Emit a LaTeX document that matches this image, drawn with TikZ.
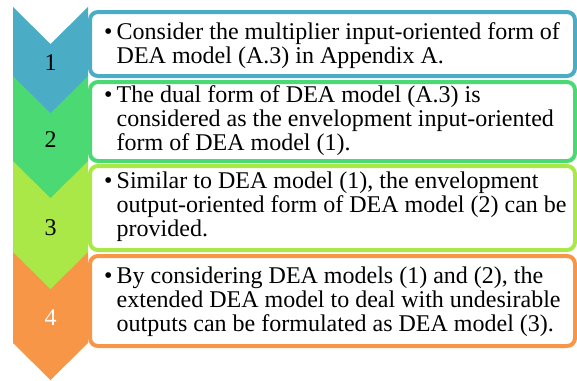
\documentclass[tikz,border=0pt]{standalone}
\usepackage{fontspec}
\setmainfont{Liberation Serif}
\definecolor{stepOneColour}{RGB}{75,172,198}
\definecolor{stepTwoColour}{RGB}{74,217,114}
\definecolor{stepThreeColour}{RGB}{170,232,72}
\definecolor{stepFourColour}{RGB}{247,150,70}
\tikzset{
	stepframe/.style={draw=#1, line width=4pt, fill=white, rounded corners=8pt},
	stepnumber/.style={font=\fontsize{24}{24}\selectfont, anchor=base, inner sep=0pt},
	steptext/.style={font=\fontsize{24}{24}\selectfont, anchor=base west, inner sep=0pt}
}
\newcommand{\stepbullet}{\makebox[12.5pt][l]{\textbullet}}

\begin{document}
\begin{tikzpicture}[x=1pt, y=-1pt]
		\useasboundingbox (0, 0) rectangle (577, 380);

		% the step arrows, bottom one first
		\fill[stepFourColour] (13, 252) -- (88, 252) -- (88, 343) -- (50.5, 380) -- (13, 343) -- cycle;
		\fill[stepThreeColour] (13, 161) -- (88, 161) -- (88, 252) -- (50.5, 289) -- (13, 252) -- cycle;
		\fill[stepTwoColour] (13, 76) -- (88, 76) -- (88, 161) -- (50.5, 198) -- (13, 161) -- cycle;
		\fill[stepOneColour] (13, 7) -- (50.5, 44) -- (88, 7) -- (88, 76) -- (50.5, 113) -- (13, 76) -- cycle;

		% step numbers
		\node[stepnumber] (num1) at (50.5, 70) {1};
		\node[stepnumber] (num2) at (50.5, 147) {2};
		\node[stepnumber] (num3) at (50.5, 235) {3};
		\node[stepnumber, text=white] (num4) at (50.5, 325) {4};

		% the text boxes
		\draw[stepframe=stepOneColour] (90, 12) rectangle (575, 76);
		\draw[stepframe=stepTwoColour] (90, 82) rectangle (575, 161);
		\draw[stepframe=stepThreeColour] (90, 166) rectangle (575, 250);
		\draw[stepframe=stepFourColour] (90, 256) rectangle (575, 346);

		% box texts
		\node[steptext] (text1) at (104, 39) {\begin{tabular}[t]{@{}l@{}l@{}}
			\stepbullet & Consider the multiplier input-oriented form of\\
			& DEA model (A.3) in Appendix A.
		\end{tabular}};
		\node[steptext] (text2) at (104, 102) {\begin{tabular}[t]{@{}l@{}l@{}}
			\stepbullet & The dual form of DEA model (A.3) is\\
			& considered as the envelopment input-oriented\\
			& form of DEA model (1).
		\end{tabular}};
		\node[steptext] (text3) at (104, 188) {\begin{tabular}[t]{@{}l@{}l@{}}
			\stepbullet & Similar to DEA model (1), the envelopment\\
			& output-oriented form of DEA model (2) can be\\
			& provided.
		\end{tabular}};
		\node[steptext] (text4) at (104, 283) {\begin{tabular}[t]{@{}l@{}l@{}}
			\stepbullet & By considering DEA models (1) and (2), the\\
			& extended DEA model to deal with undesirable\\
			& outputs can be formulated as DEA model (3).
		\end{tabular}};
	\end{tikzpicture}
\end{document}
